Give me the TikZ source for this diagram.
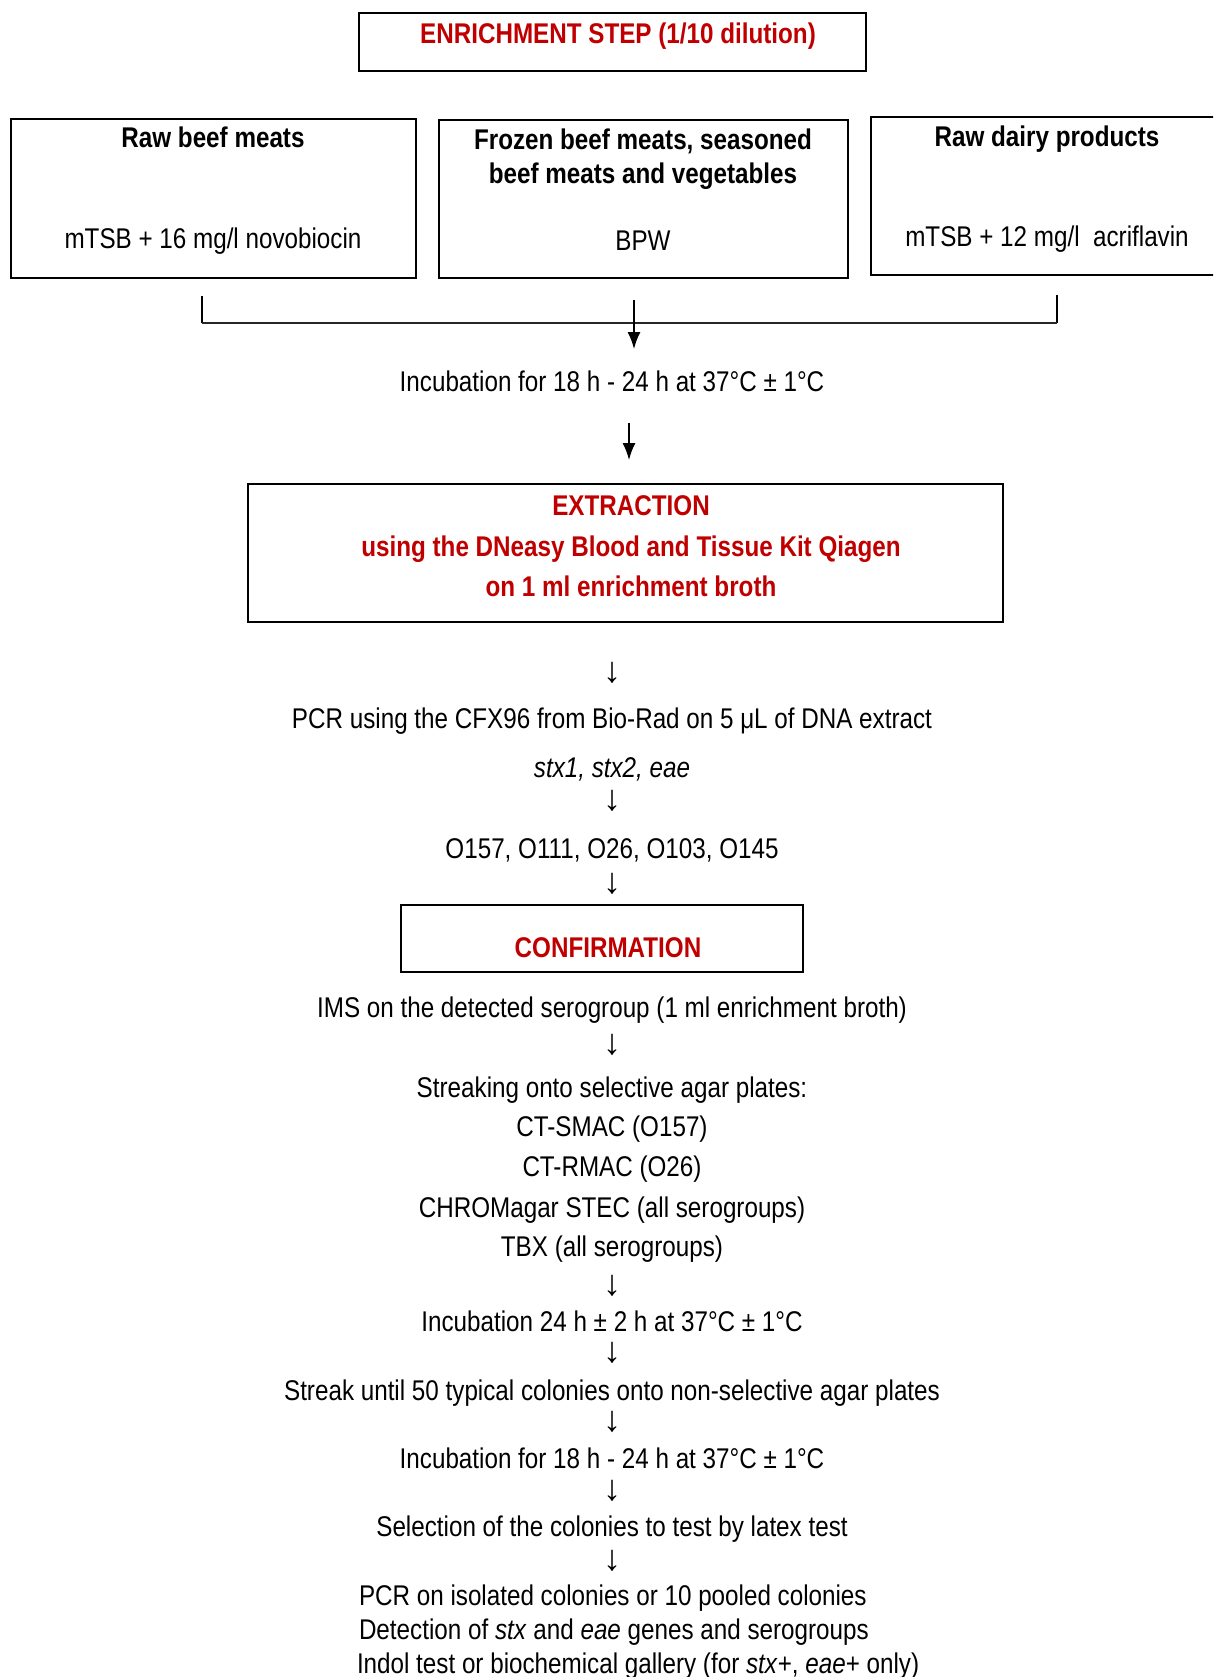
\documentclass[tikz,border=0pt]{standalone}
\usepackage{fontspec}
\setmainfont[FakeStretch=0.85]{Liberation Sans}
\newfontfamily\arrowfont{Liberation Sans}
\usetikzlibrary{arrows.meta}
\definecolor{redt}{RGB}{192,0,0}
\begin{document}
\begin{tikzpicture}[x=1pt,y=-1pt,
  every node/.style={inner sep=0pt, outer sep=0pt},
  txt/.style={anchor=base, font=\fontsize{28.5}{34}\selectfont},
  ltxt/.style={anchor=base west, font=\fontsize{28.5}{34}\selectfont},
  btxt/.style={anchor=base, font=\fontsize{28.5}{34}\selectfont\bfseries},
  rtxt/.style={btxt, text=redt},
  darr/.style={anchor=center, font=\arrowfont\fontsize{36}{36}\selectfont},
  boxst/.style={draw, line width=2pt, rectangle, anchor=north west},
  arr/.style={-{Latex[length=17pt,width=13pt]}, line width=1.5pt}]
\useasboundingbox (0,0) rectangle (1213,1677);
\clip (0,0) rectangle (1213,1677);
\fill[white] (0,0) rectangle (1213,1677);

% boxes
\node[boxst, minimum width=507pt, minimum height=58pt] (enr) at (359,13) {};
\node[boxst, minimum width=405pt, minimum height=159pt] (b1) at (11,119) {};
\node[boxst, minimum width=409pt, minimum height=158pt] (b2) at (439,120) {};
\node[boxst, minimum width=354pt, minimum height=158pt] (b3) at (871,117) {};
\node[boxst, minimum width=755pt, minimum height=138pt] (ext) at (248,484) {};
\node[boxst, minimum width=402pt, minimum height=67pt] (conf) at (401,905) {};

% box texts
\node[rtxt] (enrt) at (618,44) {ENRICHMENT STEP (1/10 dilution)};
\node[btxt] (t1a) at (213,148) {Raw beef meats};
\node[txt]  (t1b) at (213,249) {mTSB + 16 mg/l novobiocin};
\node[btxt] (t2a) at (643,150) {Frozen beef meats, seasoned};
\node[btxt] (t2b) at (643,184) {beef meats and vegetables};
\node[txt]  (t2c) at (643,251) {BPW};
\node[btxt] (t3a) at (1047,147) {Raw dairy products};
\node[txt]  (t3b) at (1047,247) {mTSB + 12 mg/l\ \ acriflavin};

% bracket
\coordinate (bl1) at (202,296);
\coordinate (bl2) at (202,323);
\coordinate (br1) at (1057,295);
\coordinate (br2) at (1057,323);
\draw[line width=1.5pt] (bl1) -- (bl2);
\draw[line width=1.5pt] (br1) -- (br2);
\draw[line width=2.5pt, black!85] (bl2) -- (br2);

\coordinate (a1s) at (634,300);
\coordinate (a1e) at (634,349);
\draw[arr] (a1s) -- (a1e);

\node[txt] (inc1) at (612,391) {Incubation for 18 h - 24 h at 37°C ± 1°C};

\coordinate (a2s) at (629,423);
\coordinate (a2e) at (629,460);
\draw[arr] (a2s) -- (a2e);

\node[rtxt] (ex1) at (631,515) {EXTRACTION};
\node[rtxt] (ex2) at (631,556) {using the DNeasy Blood and Tissue Kit Qiagen};
\node[rtxt] (ex3) at (631,596) {on 1 ml enrichment broth};

\node[darr] (d1) at (612,673) {↓};
\node[txt] (pcr) at (612,728) {PCR using the CFX96 from Bio-Rad on 5 μL of DNA extract};
\node[txt] (stx) at (612,777) {\itshape stx1, stx2, eae};
\node[darr] (d2) at (612,801) {↓};
\node[txt] (ser) at (612,858) {O157, O111, O26, O103, O145};
\node[darr] (d3) at (612,884) {↓};
\node[rtxt] (conft) at (608,957) {CONFIRMATION};

\node[txt] (ims) at (612,1017) {IMS on the detected serogroup (1 ml enrichment broth)};
\node[darr] (d4) at (612,1045) {↓};
\node[txt] (s1) at (612,1097) {Streaking onto selective agar plates:};
\node[txt] (s2) at (612,1136) {CT-SMAC (O157)};
\node[txt] (s3) at (612,1176) {CT-RMAC (O26)};
\node[txt] (s4) at (612,1217) {CHROMagar STEC (all serogroups)};
\node[txt] (s5) at (612,1256) {TBX (all serogroups)};
\node[darr] (d5) at (612,1286) {↓};
\node[txt] (inc2) at (612,1331) {Incubation 24 h ± 2 h at 37°C ± 1°C};
\node[darr] (d6) at (612,1353) {↓};
\node[txt] (str) at (612,1400) {Streak until 50 typical colonies onto non-selective agar plates};
\node[darr] (d7) at (612,1422) {↓};
\node[txt] (inc3) at (612,1468) {Incubation for 18 h - 24 h at 37°C ± 1°C};
\node[darr] (d8) at (612,1491) {↓};
\node[txt] (sel) at (612,1536) {Selection of the colonies to test by latex test};
\node[darr] (d9) at (612,1561) {↓};
\node[ltxt] (f1) at (359,1605) {PCR on isolated colonies or 10 pooled colonies};
\node[ltxt] (f2) at (359,1639) {Detection of \textit{stx} and \textit{eae} genes and serogroups};
\node[ltxt] (f3) at (357,1673) {Indol test or biochemical gallery (for \textit{stx}+, \textit{eae}+ only)};
\end{tikzpicture}
\end{document}
